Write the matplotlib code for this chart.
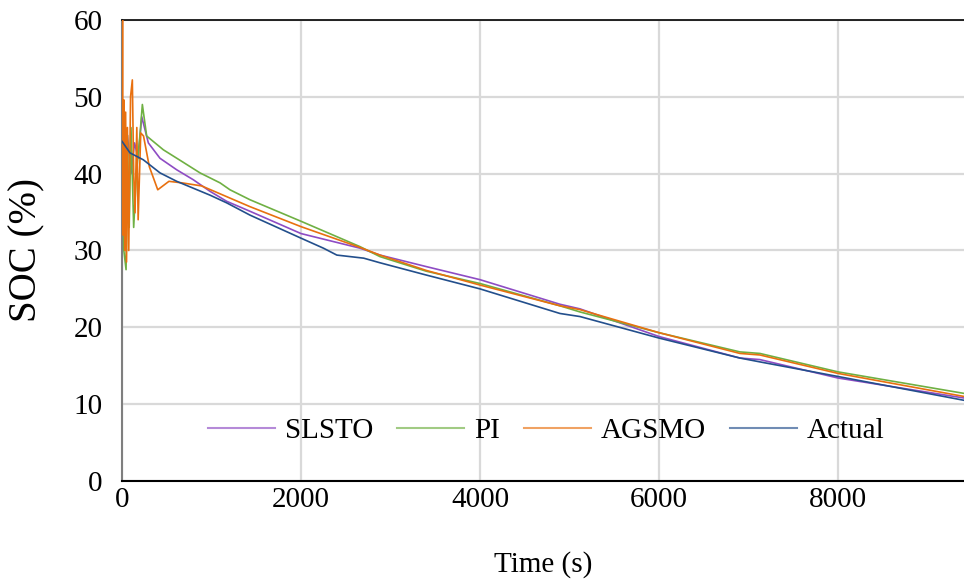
import matplotlib
matplotlib.use("Agg")
import matplotlib.pyplot as plt

plt.rcParams['font.family'] = ['Liberation Serif', 'DejaVu Serif']

# values (time in s, SOC in %)
t_actual = [0, 89, 238, 424, 611, 797, 983, 1169, 1430, 2000, 2250, 2400, 2700,
            2882, 3400, 4000, 4893, 5117, 6000, 6904, 7127, 8000, 9408]
soc_actual = [44.2, 42.7, 41.8, 40.1, 39.0, 38.1, 37.2, 36.2, 34.6, 31.6, 30.3, 29.4, 29.0,
              28.4, 26.8, 25.0, 21.8, 21.4, 18.6, 16.0, 15.5, 13.6, 10.5]

t_slsto = [0, 30, 60, 100, 140, 180, 220, 294, 424, 611, 797, 983, 1169, 1430, 2000,
           2659, 2882, 3400, 4000, 4893, 5117, 6000, 6904, 7127, 8000, 9408]
soc_slsto = [44.5, 42.0, 45.0, 40.0, 44.0, 42.0, 47.4, 44.0, 42.0, 40.5, 39.2, 37.7, 36.4, 35.1, 32.2,
             30.3, 29.4, 27.9, 26.2, 23.0, 22.4, 18.8, 16.0, 15.8, 13.4, 10.8]

t_pi = [0, 8, 20, 45, 60, 80, 100, 130, 160, 200, 227, 275, 462, 667, 871, 1095, 1206,
        1430, 2000, 2659, 2882, 3400, 4000, 4893, 5117, 6000, 6904, 7127, 8000, 9408]
soc_pi = [50.0, 44.0, 30.0, 27.5, 45.0, 33.0, 46.0, 33.0, 40.0, 45.0, 49.0, 44.9, 43.1, 41.6, 40.1, 38.8, 37.9,
          36.6, 33.8, 30.5, 29.2, 27.3, 25.7, 22.8, 22.0, 19.3, 16.8, 16.6, 14.2, 11.4]

t_agsmo = [0, 5, 12, 20, 30, 40, 50, 60, 75, 95, 115, 130, 145, 165, 180, 209, 240,
           305, 399, 524, 670, 890, 1130, 1430, 2000, 2659, 2882, 3400, 4000, 4893, 5117,
           6000, 6904, 7127, 8000, 9408]
soc_agsmo = [44.0, 60.0, 32.0, 49.6, 30.0, 48.0, 28.5, 46.0, 30.0, 50.0, 52.2, 40.0, 34.9, 46.0, 34.0, 45.3, 44.9,
             40.9, 37.9, 39.0, 38.8, 38.4, 37.2, 35.7, 33.1, 30.4, 29.4, 27.4, 25.5, 22.8, 22.3,
             19.3, 16.6, 16.4, 14.0, 11.0]

x_ticks = [0, 2000, 4000, 6000, 8000]
y_ticks = [0, 10, 20, 30, 40, 50, 60]

fig = plt.figure(figsize=(9.64, 5.79), dpi=100)
ax = fig.add_axes([0.1266, 0.1693, 0.8734, 0.7962])

ax.plot(t_slsto, soc_slsto, color='#8e4cc4', lw=1.2, label='SLSTO', zorder=3)
ax.plot(t_pi, soc_pi, color='#6fb043', lw=1.2, label='PI', zorder=3)
ax.plot(t_agsmo, soc_agsmo, color='#e8700f', lw=1.2, label='AGSMO', zorder=4)
ax.plot(t_actual, soc_actual, color='#234f8c', lw=1.2, label='Actual', zorder=5)

ax.set_xlim(0, 9408)
ax.set_ylim(0, 60)
ax.set_xticks(x_ticks)
ax.set_yticks(y_ticks)
ax.tick_params(axis='both', length=0, labelsize=21)
ax.tick_params(axis='x', pad=4)
ax.tick_params(axis='y', pad=14)
ax.grid(True, color='#d9d9d9', lw=1.6)
ax.set_axisbelow(True)

ax.spines['right'].set_visible(False)
ax.spines['left'].set_color('#7f7f7f')
ax.spines['bottom'].set_color('#000000')
ax.spines['top'].set_color('#000000')
ax.spines['left'].set_linewidth(1.5)
ax.spines['bottom'].set_linewidth(1.5)
ax.spines['top'].set_linewidth(1.2)

ax.set_xlabel('Time (s)', fontsize=21, labelpad=28)
ax.set_ylabel('SOC (%)', fontsize=28, labelpad=20)

leg = ax.legend(loc='center', bbox_to_anchor=(0.504, 0.108), ncol=4, frameon=False,
                fontsize=21, handlelength=2.3, handletextpad=0.35, columnspacing=0.8)
for h in leg.get_lines():
    h.set_alpha(0.65)
    h.set_linewidth(1.5)

fig.savefig('out.png', dpi=100)
